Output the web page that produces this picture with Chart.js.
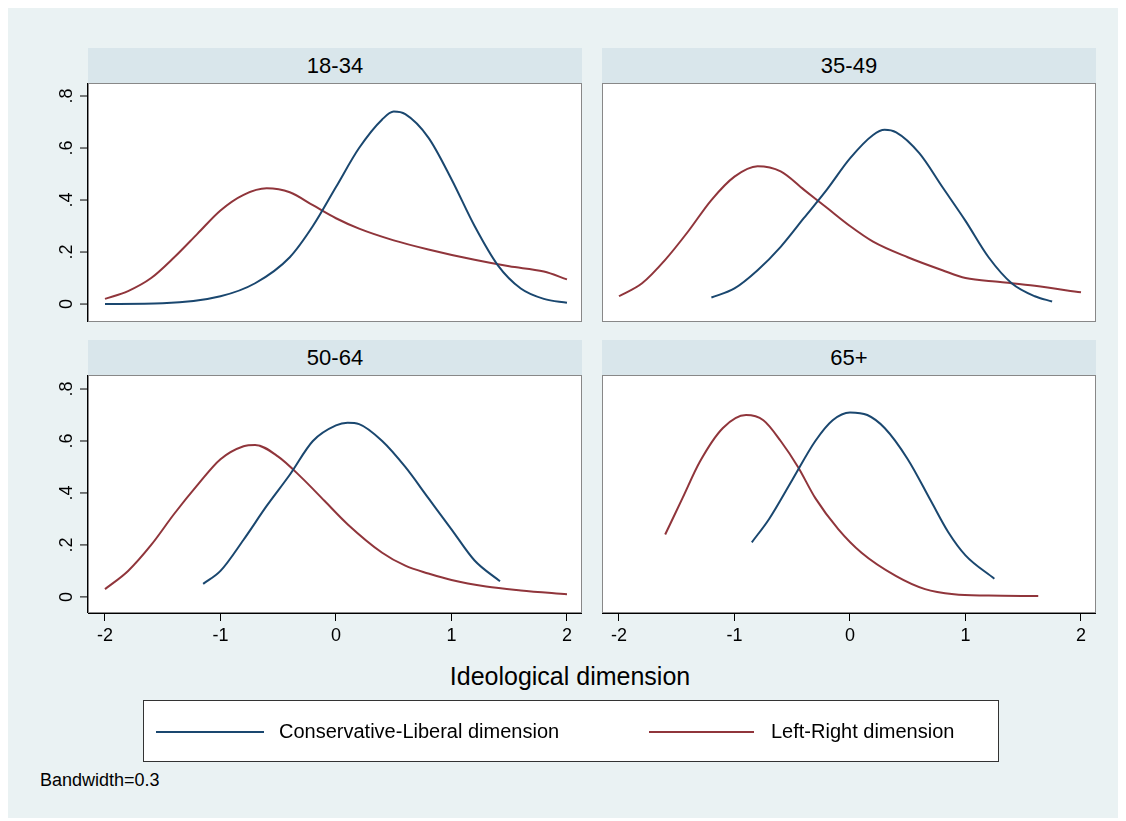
<!DOCTYPE html>
<html><head><meta charset="utf-8">
<script src="https://cdn.jsdelivr.net/npm/chart.js@4"></script>
<style>
body{margin:0;background:#fff;font-family:"Liberation Sans",Arial,sans-serif;}
#bg{position:absolute;left:8px;top:8px;width:1110px;height:810px;background:#eaf2f3;}
.hd{position:absolute;height:35px;background:#d9e6eb;text-align:center;line-height:35px;font-size:22px;color:#000;}
canvas{position:absolute;display:block;}
#xt{position:absolute;left:88px;width:964px;top:662px;text-align:center;font-size:25px;}
#leg{position:absolute;left:143px;top:700px;width:854px;height:60px;background:#fff;border:1px solid #333;}
#bw{position:absolute;left:40px;top:770px;font-size:18px;}
</style></head><body>
<div id="bg"></div>
<div class="hd" style="left:88px;top:48px;width:494px">18-34</div>
<div class="hd" style="left:602px;top:48px;width:494px">35-49</div>
<div class="hd" style="left:88px;top:340px;width:494px">50-64</div>
<div class="hd" style="left:602px;top:340px;width:494px">65+</div>
<canvas id="c0" width="542" height="239" style="left:40px;top:83px;width:542px;height:239px"></canvas>
<canvas id="c1" width="494" height="239" style="left:602px;top:83px;width:494px;height:239px"></canvas>
<canvas id="c2" width="542" height="283" style="left:40px;top:375px;width:542px;height:283px"></canvas>
<canvas id="c3" width="494" height="283" style="left:602px;top:375px;width:494px;height:283px"></canvas>
<div id="xt">Ideological dimension</div>
<div id="leg"><canvas id="lg" width="854" height="60" style="left:0;top:0"></canvas></div>
<div id="bw">Bandwidth=0.3</div>
<script>
const blue = "#1a476f";
const red = "#90353b";
const xTicks = [-2, -1, 0, 1, 2];
const yTicks = [0, 0.2, 0.4, 0.6, 0.8];
const panels = ["18-34", "35-49", "50-64", "65+"];

const clX = [
  [-2,-1.5,-1,-0.7,-0.4,-0.2,0,0.2,0.4,0.5,0.6,0.8,1,1.2,1.4,1.6,1.8,2],
  [-1.2,-1,-0.8,-0.6,-0.4,-0.2,0,0.2,0.3,0.4,0.6,0.8,1,1.2,1.4,1.6,1.75],
  [-1.15,-1,-0.8,-0.6,-0.4,-0.2,0,0.1,0.2,0.4,0.6,0.8,1,1.2,1.42],
  [-0.85,-0.7,-0.5,-0.3,-0.15,0,0.15,0.3,0.5,0.7,0.85,1,1.25]
];
const clY = [
  [0,0.003,0.03,0.08,0.18,0.3,0.45,0.6,0.71,0.74,0.73,0.64,0.48,0.3,0.15,0.06,0.02,0.005],
  [0.025,0.06,0.13,0.22,0.33,0.44,0.56,0.65,0.67,0.66,0.58,0.45,0.32,0.18,0.08,0.03,0.01],
  [0.05,0.1,0.22,0.35,0.47,0.6,0.66,0.67,0.665,0.6,0.5,0.38,0.26,0.14,0.06],
  [0.21,0.3,0.45,0.6,0.68,0.71,0.7,0.65,0.53,0.37,0.25,0.16,0.07]
];
const lrX = [
  [-2,-1.8,-1.6,-1.4,-1.2,-1,-0.8,-0.6,-0.4,-0.2,0,0.2,0.5,0.8,1.2,1.5,1.8,2],
  [-2,-1.8,-1.6,-1.4,-1.2,-1,-0.8,-0.6,-0.4,-0.2,0,0.2,0.5,0.8,1,1.3,1.6,2],
  [-2,-1.8,-1.6,-1.4,-1.2,-1,-0.8,-0.7,-0.5,-0.3,-0.1,0.1,0.4,0.6,0.8,1,1.3,1.6,2],
  [-1.6,-1.45,-1.3,-1.1,-0.9,-0.75,-0.6,-0.45,-0.3,-0.1,0.1,0.4,0.65,0.9,1.2,1.63]
];
const lrY = [
  [0.02,0.05,0.1,0.18,0.27,0.36,0.42,0.445,0.43,0.38,0.33,0.29,0.245,0.21,0.17,0.145,0.125,0.095],
  [0.03,0.08,0.17,0.28,0.4,0.49,0.53,0.51,0.44,0.37,0.3,0.24,0.18,0.13,0.1,0.085,0.07,0.045],
  [0.03,0.1,0.2,0.32,0.43,0.53,0.58,0.585,0.54,0.46,0.37,0.28,0.17,0.12,0.09,0.065,0.04,0.025,0.01],
  [0.24,0.38,0.52,0.65,0.7,0.68,0.6,0.5,0.38,0.26,0.17,0.08,0.03,0.01,0.005,0.003]
];

function pts(xs, ys) { return xs.map((x, i) => ({x: x, y: ys[i]})); }

const plotBg = {
  id: "plotBg",
  beforeDraw(chart) {
    const a = chart.chartArea, c = chart.ctx;
    c.save();
    c.fillStyle = "#fff";
    c.fillRect(a.left, a.top, a.width, a.height);
    c.restore();
  },
  afterDraw(chart) {
    const a = chart.chartArea, c = chart.ctx;
    c.save();
    c.strokeStyle = "#888";
    c.lineWidth = 1;
    c.strokeRect(a.left + 0.5, a.top + 0.5, a.width - 1, a.height - 1);
    if (chart.options.showY) {
      const ys = chart.scales.y;
      c.strokeStyle = "#000";
      c.beginPath();
      c.moveTo(a.left - 0.5, a.top); c.lineTo(a.left - 0.5, a.bottom);
      c.stroke();
      c.fillStyle = "#000";
      c.font = "18px 'Liberation Sans'";
      c.textAlign = "center";
      c.textBaseline = "bottom";
      yTicks.forEach(v => {
        const p = ys.getPixelForValue(v);
        c.beginPath(); c.moveTo(a.left - 8, p); c.lineTo(a.left, p); c.stroke();
        c.save();
        c.translate(a.left - 12, p);
        c.rotate(-Math.PI / 2);
        c.fillText(v == 0 ? "0" : String(v).replace("0.", "."), 0, 0);
        c.restore();
      });
    }
    c.restore();
  }
};

function makeChart(i) {
  const bottom = i >= 2, left = i % 2 == 0;
  const config = {
    type: "line",
    data: {
      datasets: [
        {label: "Conservative-Liberal dimension", data: pts(clX[i], clY[i]), borderColor: blue, borderWidth: 2, pointRadius: 0, cubicInterpolationMode: "monotone"},
        {label: "Left-Right dimension", data: pts(lrX[i], lrY[i]), borderColor: red, borderWidth: 2, pointRadius: 0, cubicInterpolationMode: "monotone"}
      ]
    },
    options: {
      showY: left,
      animation: false,
      responsive: false,
      devicePixelRatio: 1,
      layout: {padding: {left: left ? 48 : 0, right: 0, top: 0, bottom: 0}},
      plugins: {legend: {display: false}, tooltip: {enabled: false}},
      scales: {
        x: {
          type: "linear", min: -2.147, max: 2.13,
          display: bottom,
          afterBuildTicks: s => { s.ticks = xTicks.map(v => ({value: v})); },
          afterFit: s => { s.height = bottom ? 45 : 0; },
          border: {color: "#000"},
          grid: {display: true, drawOnChartArea: false, color: "#000", tickLength: 8},
          ticks: {color: "#000", font: {size: 18, family: "Liberation Sans"}, maxRotation: 0, padding: 4}
        },
        y: {
          min: bottom ? -0.062 : -0.069, max: bottom ? 0.854 : 0.85,
          display: false
        }
      }
    },
    plugins: [plotBg]
  };
  return new Chart(document.getElementById("c" + i), config);
}

panels.forEach((p, i) => makeChart(i));

// legend
const lc = document.getElementById("lg").getContext("2d");
lc.lineWidth = 2;
lc.font = "20px 'Liberation Sans'";
lc.fillStyle = "#000";
lc.textBaseline = "middle";
lc.strokeStyle = blue;
lc.beginPath(); lc.moveTo(12, 31); lc.lineTo(120, 31); lc.stroke();
lc.fillText("Conservative-Liberal dimension", 135, 31);
lc.strokeStyle = red;
lc.beginPath(); lc.moveTo(505, 31); lc.lineTo(610, 31); lc.stroke();
lc.fillText("Left-Right dimension", 627, 31);
</script>
</body></html>
